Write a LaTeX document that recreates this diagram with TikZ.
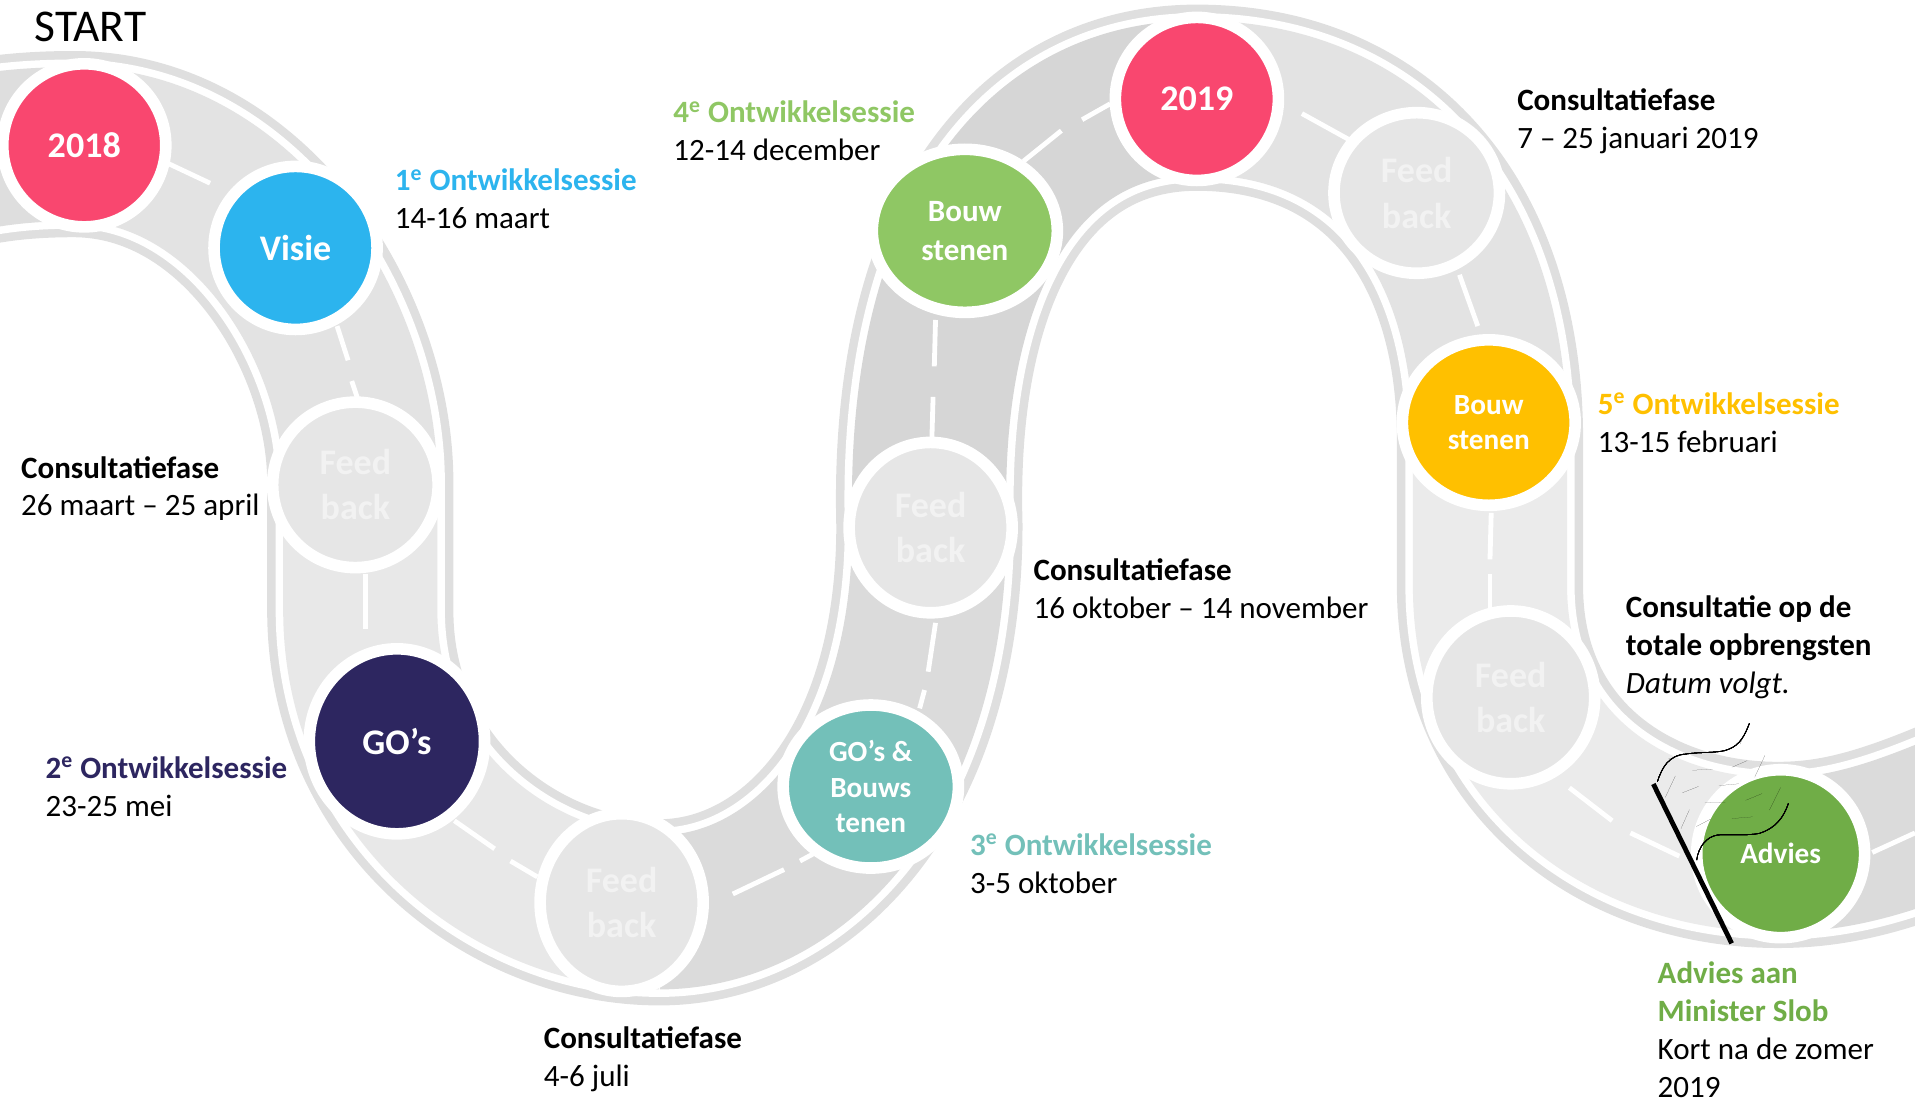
\documentclass[tikz,border=0pt]{standalone}
\usepackage{fontspec}
\setmainfont{Carlito}
\usetikzlibrary{shapes.geometric,calc}

\definecolor{pink}{HTML}{F9476F}
\definecolor{skyblue}{HTML}{2CB4EE}
\definecolor{navy}{HTML}{2D2660}
\definecolor{leaf}{HTML}{8FC764}
\definecolor{teal}{HTML}{73C0B9}
\definecolor{amber}{HTML}{FFC000}
\definecolor{advice}{HTML}{70AD47}
\definecolor{feedfill}{HTML}{E6E6E6}
\definecolor{edgegray}{HTML}{DFDFDF}

\begin{document}
\begin{tikzpicture}[x=0.61pt,y=-0.61pt,
	main node/.style 2 args={ellipse,draw=white,line width=5.8pt,inner sep=0pt,align=center,text=white,
		minimum width={(2*#1+9.5)*0.61pt},minimum height={(2*#2+9.5)*0.61pt}},
	big text/.style={font=\fontsize{18}{22.5}\selectfont\bfseries},
	small text/.style={font=\fontsize{14.6}{17.8}\selectfont\bfseries},
	mid text/.style={font=\fontsize{15.5}{19.5}\selectfont\bfseries},
	feed node/.style={fill=feedfill,text=white!95!black,big text},
	label node/.style={anchor=west,align=left,inner sep=0pt,font=\fontsize{15.5}{18.9}\selectfont},
	road outer/.style={draw=edgegray,line width=93pt},
	road white/.style={draw=white,line width=84.5pt},
	road inner/.style={line width=77pt},
	road mark/.style={draw=white,line width=2.4pt}]

	\useasboundingbox (0,0) rectangle (1568,900);
	\clip (0,0) rectangle (1568,900);

	\coordinate (c0) at (-60,135);
	\coordinate (c1) at (60,118);
	\coordinate (c2) at (295,395);
	\coordinate (c3) at (295,500);
	\coordinate (c4) at (540,747);
	\coordinate (c5) at (761,430);
	\coordinate (c6) at (980,80);
	\coordinate (c7) at (1220,360);
	\coordinate (c8) at (1220,480);
	\coordinate (c9) at (1456,700);
	\coordinate (c10) at (1600,665);

	\def\roadstart{(c0) .. controls (-20,122) and (20,118) .. (c1)}
	\def\roadleft{(c1) .. controls (200,118) and (295,270) .. (c2) -- (c3) .. controls (295,650) and (420,747) .. (c4)}
	\def\roadmid{(c4) .. controls (650,747) and (761,640) .. (c5) .. controls (755,210) and (840,80) .. (c6)}
	\def\roadright{(c6) .. controls (1130,80) and (1220,190) .. (c7) -- (c8) .. controls (1220,620) and (1330,700) .. (c9)}
	\def\roadend{(c9) .. controls (1500,700) and (1540,690) .. (c10)}

	\foreach \layer in {road outer,road white}
		\draw[\layer] (c0) .. controls (-20,122) and (20,118) .. (c1) .. controls (200,118) and (295,270) .. (c2) -- (c3) .. controls (295,650) and (420,747) .. (c4) .. controls (650,747) and (761,640) .. (c5) .. controls (755,210) and (840,80) .. (c6) .. controls (1130,80) and (1220,190) .. (c7) -- (c8) .. controls (1220,620) and (1330,700) .. (c9) .. controls (1500,700) and (1540,690) .. (c10);

	\draw[road inner,draw=black!13] \roadstart;
	\draw[road inner,draw=black!11] (c1) .. controls (200,118) and (295,270) .. (c2);
	\draw[road inner,draw=black!9] (c2) -- (c3) .. controls (295,650) and (420,747) .. (c4);
	\draw[road inner,draw=black!14] (c4) .. controls (650,747) and (761,640) .. (c5);
	\draw[road inner,draw=black!16] (c5) .. controls (755,210) and (840,80) .. (c6);
	\draw[road inner,draw=black!11] (c6) .. controls (1130,80) and (1220,190) .. (c7);
	\draw[road inner,draw=black!8] (c7) -- (c8) .. controls (1220,620) and (1330,700) .. (c9);
	\draw[road inner,draw=black!14] \roadend;

	% white road marks
	\foreach \xa/\ya/\xb/\yb in {138/134/172/150, 276/267/285/295, 288/312/293/327, 299/470/299/515,
		372/672/405/695, 418/705/440/718, 600/732/642/712, 655/705/668/698, 753/580/757/565, 760/550/766/510,
		763/360/764/325, 765/300/766/262, 838/132/869/107, 886/98/909/85, 1066/93/1104/114, 1195/225/1210/267,
		1221/420/1220/458, 1220/470/1220/500, 1285/645/1320/672, 1335/682/1375/701, 1533/698/1568/682}
		\draw[road mark] (\xa,\ya) -- (\xb,\yb);

	\node[main node={62}{62},fill=pink,big text] (start) at (69,119) {2018};
	\node[main node={62}{62},fill=skyblue,big text] (visie) at (242,203) {Visie};
	\node[main node={63}{63},feed node] (feed1) at (291,397) {Feed\\back};
	\node[main node={67}{71},fill=navy,big text] (gos) at (325,607) {GO’s};
	\node[main node={62}{68},feed node] (feed2) at (509,739) {Feed\\back};
	\node[main node={67}{62},fill=teal,small text] (gosb) at (713,644) {GO’s \&\\Bouws\\tenen};
	\node[main node={62}{65},feed node] (feed3) at (762,432) {Feed\\back};
	\node[main node={71}{62},fill=leaf,mid text] (bouw4) at (790,189) {Bouw\\stenen};
	\node[main node={62}{62},fill=pink,big text] (jaar) at (980,81) {2019};
	\node[main node={63}{61},feed node] (feed4) at (1160,158) {Feed\\back};
	\node[main node={66}{63},fill=amber,small text] (bouw5) at (1219,346) {Bouw\\stenen};
	\node[main node={64}{66},feed node] (feed5) at (1237,571) {Feed\\back};
	\node[main node={64}{64},fill=advice,small text] (advies) at (1458,699) {Advies};

	% flag, only the black squares are filled
	\begin{scope}[shift={(1310.1,556.8)},scale=0.27294]
		\foreach \n/\x/\y in {0/172/305,1/205/237,2/258/222,3/318/218,4/375/212,5/420/192,6/448/130}
			\coordinate (t\n) at (\x,\y);
		\foreach \n/\x/\y in {0/290/540,1/310/490,2/352/465,3/415/465,4/478/460,5/530/440,6/565/370}
			\coordinate (b\n) at (\x,\y);
		\foreach \c [evaluate=\c as \d using int(\c+1)] in {0,...,5}
			\foreach \r [evaluate=\r as \s using int(\r+1)] in {0,...,4}{
				\pgfmathparse{int(mod(\c+\r,2))}
				\ifnum\pgfmathresult=1
					\fill[black] ($(t\c)!\r/5!(b\c)$) -- ($(t\d)!\r/5!(b\d)$) -- ($(t\d)!\s/5!(b\d)$) -- ($(t\c)!\s/5!(b\c)$) -- cycle;
				\fi
			}
		\draw[black,line width=0.35pt] (t0) .. controls (185,265) and (205,225) .. (258,222) .. controls (300,215) and (360,220) .. (385,208) .. controls (420,195) and (435,165) .. (t6)
			(b6) .. controls (550,415) and (525,445) .. (478,460) .. controls (440,468) and (380,462) .. (352,465) .. controls (320,470) and (295,500) .. (b0);
		\draw[black,line width=2.4pt] (160,312) -- (395,790);
	\end{scope}

	\node[anchor=center,inner sep=0pt,font=\fontsize{22.7}{27}\selectfont] (title) at (74,22) {START};

	\node[label node] (sessie1) at (323,163) {\textcolor{skyblue}{\textbf{1\textsuperscript{e} Ontwikkelsessie}}\\14-16 maart};
	\node[label node] (sessie4) at (551,107) {\textcolor{leaf}{\textbf{4\textsuperscript{e} Ontwikkelsessie}}\\12-14 december};
	\node[label node] (fase4) at (1242,99) {\textbf{Consultatiefase}\\7 – 25 januari 2019};
	\node[label node] (sessie5) at (1308,346) {\textcolor{amber}{\textbf{5\textsuperscript{e} Ontwikkelsessie}}\\13-15 februari};
	\node[label node] (fase1) at (17,400) {\textbf{Consultatiefase}\\26 maart – 25 april};
	\node[label node] (fase3) at (846,482) {\textbf{Consultatiefase}\\16 oktober – 14 november};
	\node[label node] (fase5) at (1331,530) {\textbf{Consultatie op de}\\\textbf{totale opbrengsten}\\\textit{Datum volgt.}};
	\node[label node] (sessie2) at (37,644) {\textcolor{navy}{\textbf{2\textsuperscript{e} Ontwikkelsessie}}\\23-25 mei};
	\node[label node] (sessie3) at (794,707) {\textcolor{teal}{\textbf{3\textsuperscript{e} Ontwikkelsessie}}\\3-5 oktober};
	\node[label node] (fase2) at (445,867) {\textbf{Consultatiefase}\\4-6 juli};
	\node[label node] (slob) at (1357,843) {\textcolor{advice}{\textbf{Advies aan}}\\\textcolor{advice}{\textbf{Minister Slob}}\\Kort na de zomer\\2019};

\end{tikzpicture}
\end{document}
